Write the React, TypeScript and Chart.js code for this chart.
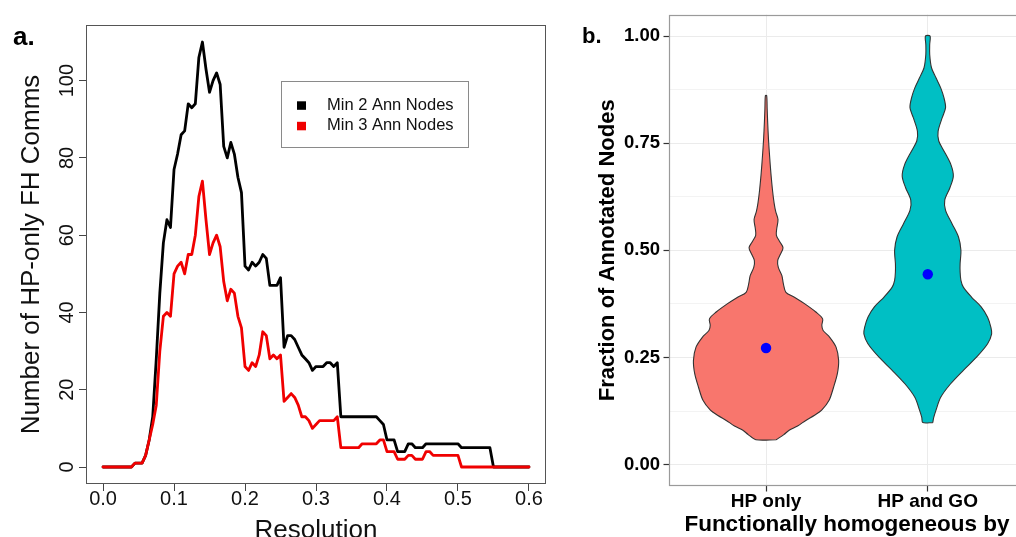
import React, { useEffect, useRef } from 'react';
import { Chart, registerables } from 'chart.js';
Chart.register(...registerables);

const FONT = "'Liberation Sans', Arial, Helvetica, sans-serif";

// ---------- Panel a data ----------
const resolution = [
  0, 0.005, 0.01, 0.015, 0.02, 0.025, 0.03, 0.035, 0.04, 0.045,
  0.05, 0.055, 0.06, 0.065, 0.07, 0.075, 0.08, 0.085, 0.09, 0.095,
  0.1, 0.105, 0.11, 0.115, 0.12, 0.125, 0.13, 0.135, 0.14, 0.145,
  0.15, 0.155, 0.16, 0.165, 0.17, 0.175, 0.18, 0.185, 0.19, 0.195,
  0.2, 0.205, 0.21, 0.215, 0.22, 0.225, 0.23, 0.235, 0.24, 0.245,
  0.25, 0.255, 0.26, 0.265, 0.27, 0.275, 0.28, 0.285, 0.29, 0.295,
  0.3, 0.305, 0.31, 0.315, 0.32, 0.325, 0.33, 0.335, 0.34, 0.345,
  0.35, 0.355, 0.36, 0.365, 0.37, 0.375, 0.38, 0.385, 0.39, 0.395,
  0.4, 0.405, 0.41, 0.415, 0.42, 0.425, 0.43, 0.435, 0.44, 0.445,
  0.45, 0.455, 0.46, 0.465, 0.47, 0.475, 0.48, 0.485, 0.49, 0.495,
  0.5, 0.505, 0.51, 0.515, 0.52, 0.525, 0.53, 0.535, 0.54, 0.545,
  0.55, 0.555, 0.56, 0.565, 0.57, 0.575, 0.58, 0.585, 0.59, 0.595,
  0.6,
];
const min2Ann = [
  0, 0, 0, 0, 0, 0, 0, 0, 0, 1,
  1, 1, 3, 7, 13, 28, 45, 58, 64, 62,
  77, 81, 86, 87, 94, 93, 94, 106, 110, 103,
  97, 100, 102, 99, 83, 80, 84, 81, 75, 71,
  52, 51, 53, 52, 53, 55, 54, 47, 47, 47,
  49, 31, 34, 34, 33, 31, 29, 28, 27, 25,
  26, 26, 26, 27, 27, 26, 27, 13, 13, 13,
  13, 13, 13, 13, 13, 13, 13, 13, 12, 11,
  7, 7, 7, 4, 4, 4, 6, 6, 5, 5,
  5, 6, 6, 6, 6, 6, 6, 6, 6, 6,
  6, 5, 5, 5, 5, 5, 5, 5, 5, 5,
  0, 0, 0, 0, 0, 0, 0, 0, 0, 0,
  0,
];
const min3Ann = [
  0, 0, 0, 0, 0, 0, 0, 0, 0, 1,
  1, 1, 3, 7, 11, 16, 30, 39, 40, 39,
  50, 52, 53, 50, 55, 55, 60, 70, 74, 64,
  55, 58, 60, 57, 48, 43, 46, 45, 39, 36,
  26, 25, 27, 26, 29, 35, 34, 28, 29, 28,
  29, 17, 18, 19, 18, 16, 13, 13, 12, 10,
  11, 12, 12, 12, 12, 12, 13, 5, 5, 5,
  5, 5, 5, 6, 6, 6, 6, 6, 7, 7,
  4, 4, 4, 2, 2, 2, 3, 3, 2, 2,
  2, 4, 4, 3, 3, 3, 3, 3, 3, 3,
  3, 0, 0, 0, 0, 0, 0, 0, 0, 0,
  0, 0, 0, 0, 0, 0, 0, 0, 0, 0,
  0,
];
const seriesLabels = ['Min 2 Ann Nodes', 'Min 3 Ann Nodes'];
const seriesColors = ['#000000', '#F00000'];
const xTicksA = [0, 0.1, 0.2, 0.3, 0.4, 0.5, 0.6];
const yTicksA = [0, 20, 40, 60, 80, 100];

// ---------- Panel b data ----------
const groups = ['HP only', 'HP and GO'];
const groupColors = ['#F8766D', '#00BFC4'];
const hpOnlyY = [0.058, 0.07, 0.08, 0.09, 0.103, 0.115, 0.127, 0.15, 0.181, 0.212, 0.243, 0.274, 0.297, 0.313, 0.325, 0.34, 0.356, 0.375, 0.39, 0.402, 0.422, 0.441, 0.46, 0.476, 0.49, 0.506, 0.52, 0.535, 0.55, 0.572, 0.59, 0.61, 0.64, 0.68, 0.72, 0.76, 0.8, 0.83, 0.861];
const hpOnlyW = [0.063, 0.11, 0.143, 0.195, 0.246, 0.3, 0.344, 0.39, 0.418, 0.441, 0.449, 0.433, 0.394, 0.353, 0.345, 0.35, 0.308, 0.24, 0.178, 0.123, 0.107, 0.098, 0.076, 0.072, 0.088, 0.105, 0.085, 0.064, 0.066, 0.074, 0.06, 0.05, 0.04, 0.03, 0.022, 0.015, 0.01, 0.007, 0.004];
const hpGoY = [0.098, 0.11, 0.126, 0.157, 0.188, 0.22, 0.25, 0.282, 0.305, 0.321, 0.344, 0.368, 0.391, 0.414, 0.43, 0.45, 0.469, 0.5, 0.531, 0.562, 0.593, 0.617, 0.646, 0.673, 0.7, 0.732, 0.755, 0.778, 0.81, 0.833, 0.856, 0.879, 0.903, 0.926, 0.957, 0.98, 1.0];
const hpGoW = [0.031, 0.037, 0.05, 0.08, 0.14, 0.22, 0.3, 0.37, 0.395, 0.39, 0.37, 0.33, 0.27, 0.22, 0.205, 0.2, 0.2, 0.205, 0.19, 0.15, 0.11, 0.105, 0.137, 0.158, 0.143, 0.1, 0.068, 0.064, 0.09, 0.11, 0.1, 0.08, 0.05, 0.023, 0.012, 0.012, 0.014];
const meanY = [0.272, 0.444];
const yMajorB = [0, 0.25, 0.5, 0.75, 1];
const yMinorB = [0.125, 0.375, 0.625, 0.875];

// ---------- plugins ----------
const framePlugin = {
  id: 'frameBox',
  afterDatasetsDraw(chart: any, _a: any, opts: any) {
    const { ctx, chartArea: a } = chart;
    ctx.save();
    ctx.strokeStyle = opts.color;
    ctx.lineWidth = opts.width;
    const l = Math.round(a.left) + 0.5;
    const t = Math.round(a.top) + 0.5;
    const r = Math.round(a.right) - 0.5;
    const b = Math.round(a.bottom) - 0.5;
    ctx.strokeRect(l, t, r - l, b - t);
    ctx.restore();
  },
};

const tagPlugin = {
  id: 'panelTag',
  afterDraw(chart: any, _a: any, opts: any) {
    const { ctx } = chart;
    ctx.save();
    ctx.font = opts.font;
    ctx.fillStyle = '#000';
    ctx.textBaseline = 'alphabetic';
    ctx.textAlign = 'left';
    ctx.fillText(opts.text, opts.x, opts.y);
    ctx.restore();
  },
};

const legendBoxPlugin = {
  id: 'boxLegend',
  afterDraw(chart: any, _a: any, opts: any) {
    const { ctx } = chart;
    ctx.save();
    ctx.strokeStyle = '#8a8a8a';
    ctx.lineWidth = 1;
    ctx.strokeRect(opts.left + 0.5, opts.top + 0.5, opts.width, opts.height);
    ctx.font = `16.5px ${FONT}`;
    ctx.textBaseline = 'middle';
    ctx.textAlign = 'left';
    chart.data.datasets.forEach((ds: any, i: number) => {
      const cy = opts.rowY[i];
      ctx.fillStyle = ds.borderColor;
      ctx.fillRect(opts.left + 16, cy - 4, 9, 8.5);
      ctx.fillStyle = '#111';
      ctx.fillText(ds.label, opts.left + 46, cy);
    });
    ctx.restore();
  },
};

function PanelA() {
  const ref = useRef<HTMLCanvasElement>(null);
  useEffect(() => {
    const chart = new Chart(ref.current as HTMLCanvasElement, {
      type: 'line',
      data: {
        datasets: [min2Ann, min3Ann].map((vals, i) => ({
          label: seriesLabels[i],
          data: resolution.map((r, j) => ({ x: r, y: vals[j] })),
          borderColor: seriesColors[i],
          backgroundColor: seriesColors[i],
          borderWidth: 2.8,
          borderJoinStyle: 'round',
          borderCapStyle: 'round',
          pointRadius: 0,
          tension: 0,
          fill: false,
          order: i === 0 ? 1 : 0,
        })),
      },
      options: {
        responsive: false,
        animation: false,
        layout: { padding: { top: 25, right: 14, left: 0, bottom: 0 } },
        plugins: {
          legend: { display: false },
          tooltip: { enabled: false },
          frameBox: { color: '#555', width: 1 },
          panelTag: { text: 'a.', x: 13, y: 45, font: `bold 26px ${FONT}` },
          boxLegend: { left: 281, top: 81, width: 187, height: 66, rowY: [105.3, 125.8] },
        } as any,
        scales: {
          x: {
            type: 'linear',
            min: -0.024,
            max: 0.624,
            afterBuildTicks: (s: any) => { s.ticks = xTicksA.map((v) => ({ value: v })); },
            afterFit: (s: any) => { s.height = 53; },
            ticks: {
              callback: (v: any) => Number(v).toFixed(1),
              font: { family: FONT, size: 20 },
              color: '#111',
              padding: -4,
              autoSkip: false,
              maxRotation: 0,
              minRotation: 0,
            },
            grid: { drawOnChartArea: false, tickLength: 7, tickColor: '#444', tickWidth: 1 },
            border: { display: false },
            title: {
              display: true,
              text: 'Resolution',
              font: { family: FONT, size: 26 },
              color: '#111',
              padding: { top: 0, bottom: -9 },
            },
          },
          y: {
            type: 'linear',
            min: -4.4,
            max: 114.4,
            afterBuildTicks: (s: any) => { s.ticks = yTicksA.map((v) => ({ value: v })); },
            afterFit: (s: any) => { s.width = 86; },
            ticks: {
              callback: (v: any) => String(v),
              font: { family: FONT, size: 20 },
              color: '#111',
              minRotation: 90,
              maxRotation: 90,
              crossAlign: 'center',
              padding: -4.7,
              autoSkip: false,
            },
            grid: { drawOnChartArea: false, tickLength: 7, tickColor: '#444', tickWidth: 1 },
            border: { display: false },
            title: {
              display: true,
              text: 'Number of HP-only FH Comms',
              font: { family: FONT, size: 26 },
              color: '#111',
              padding: { top: 16.4, bottom: 0 },
            },
          },
        },
      } as any,
      plugins: [framePlugin, tagPlugin, legendBoxPlugin],
    });
    return () => chart.destroy();
  }, []);
  return (
    <canvas
      ref={ref}
      width={560}
      height={537}
      style={{ position: 'absolute', left: 0, top: 0, width: 560, height: 537 }}
    />
  );
}

function violinPolygon(center: number, ys: number[], ws: number[]) {
  const right = ys.map((y, i) => ({ x: center + ws[i], y }));
  const left = ys.map((y, i) => ({ x: center - ws[i], y })).reverse();
  return [...right, ...left, right[0]];
}

function PanelB() {
  const ref = useRef<HTMLCanvasElement>(null);
  useEffect(() => {
    const violins = [
      { ys: hpOnlyY, ws: hpOnlyW },
      { ys: hpGoY, ws: hpGoW },
    ];
    const isMajor = (v: any) => yMajorB.includes(v);
    const chart = new Chart(ref.current as HTMLCanvasElement, {
      type: 'scatter',
      data: {
        datasets: [
          {
            label: 'mean',
            data: meanY.map((y, i) => ({ x: i + 1, y })),
            showLine: false,
            pointRadius: 5.2,
            pointBorderWidth: 0,
            backgroundColor: '#0000FF',
            borderColor: '#0000FF',
            order: 0,
          },
          ...violins.map((v, i) => ({
            label: groups[i],
            data: violinPolygon(i + 1, v.ys, v.ws),
            showLine: true,
            fill: 'shape',
            backgroundColor: groupColors[i],
            borderColor: '#333333',
            borderWidth: 1.1,
            pointRadius: 0,
            tension: 0.3,
            order: 1,
          })),
        ],
      },
      options: {
        responsive: false,
        animation: false,
        layout: { padding: { top: 13.5, right: 3, left: 0, bottom: 0 } },
        plugins: {
          legend: { display: false },
          tooltip: { enabled: false },
          frameBox: { color: '#9a9a9a', width: 1.2 },
          panelTag: { text: 'b.', x: 22, y: 43, font: `bold 22px ${FONT}` },
        } as any,
        scales: {
          x: {
            type: 'linear',
            min: 0.4,
            max: 2.6,
            afterBuildTicks: (s: any) => { s.ticks = groups.map((_g, i) => ({ value: i + 1 })); },
            afterFit: (s: any) => { s.height = 51; },
            ticks: {
              callback: (_v: any, i: number) => groups[i],
              font: { family: FONT, size: 19, weight: 'bold' },
              color: '#000',
              padding: -1,
              autoSkip: false,
              maxRotation: 0,
              minRotation: 0,
            },
            grid: { color: '#EBEBEB', lineWidth: 1, tickLength: 5.5, tickColor: '#333', tickWidth: 1.2 },
            border: { display: false },
            title: {
              display: true,
              text: 'Functionally homogeneous by',
              font: { family: FONT, size: 22.5, weight: 'bold' },
              color: '#000',
              padding: { top: 0, bottom: -1.5 },
            },
          },
          y: {
            type: 'linear',
            min: -0.05,
            max: 1.05,
            afterBuildTicks: (s: any) => {
              s.ticks = [...yMajorB, ...yMinorB].sort((a, b) => a - b).map((v) => ({ value: v }));
            },
            afterFit: (s: any) => { s.width = 109; },
            ticks: {
              callback: (v: any) => (isMajor(v) ? Number(v).toFixed(2) : ''),
              font: { family: FONT, size: 18.5, weight: 'bold' },
              color: '#000',
              padding: 3.5,
              autoSkip: false,
            },
            grid: {
              color: (c: any) => (isMajor(c.tick && c.tick.value) ? '#EBEBEB' : '#F3F3F3'),
              lineWidth: 1,
              tickLength: 5.5,
              tickColor: (c: any) => (isMajor(c.tick && c.tick.value) ? '#333' : 'rgba(0,0,0,0)'),
              tickWidth: 1.2,
            },
            border: { display: false },
            title: {
              display: true,
              text: 'Fraction of Annotated Nodes',
              font: { family: FONT, size: 22, weight: 'bold' },
              color: '#000',
              padding: { top: 34.8, bottom: 0 },
            },
          },
        },
      } as any,
      plugins: [framePlugin, tagPlugin],
    });
    return () => chart.destroy();
  }, []);
  return (
    <canvas
      ref={ref}
      width={470}
      height={537}
      style={{ position: 'absolute', left: 560, top: 0, width: 470, height: 537 }}
    />
  );
}

export default function App() {
  return (
    <div
      style={{
        position: 'fixed',
        left: 0,
        top: 0,
        width: 1016,
        height: 537,
        overflow: 'hidden',
        background: '#fff',
      }}
    >
      <PanelA />
      <PanelB />
    </div>
  );
}
